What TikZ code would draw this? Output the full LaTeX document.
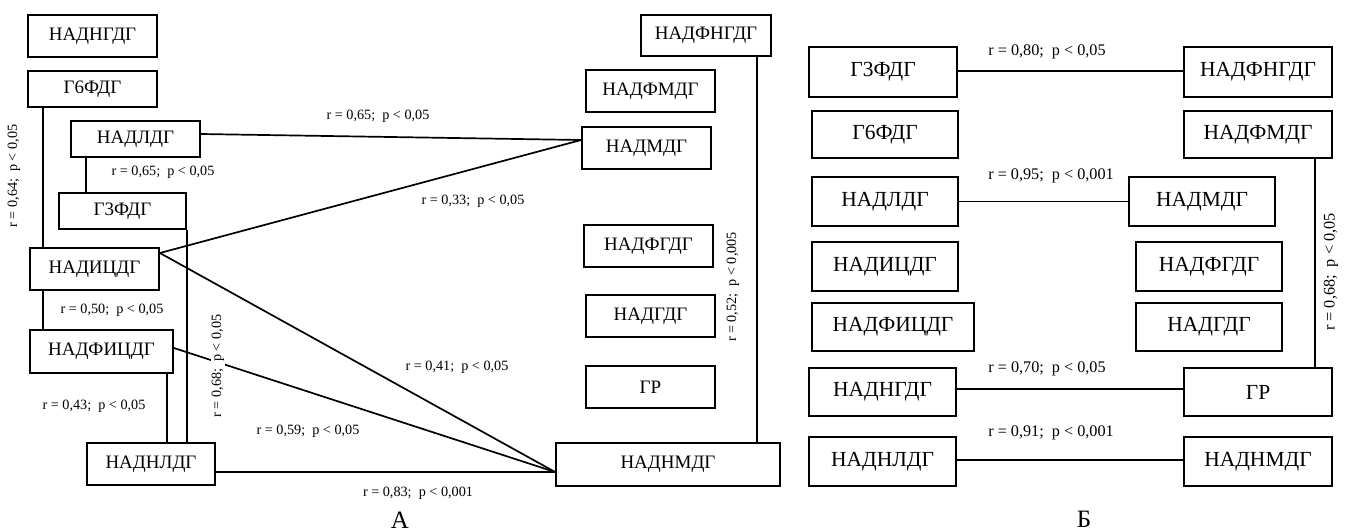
\documentclass[tikz,border=0pt]{standalone}
\usepackage{fontspec}
\setmainfont{Liberation Serif}
\usetikzlibrary{calc}
\tikzset{
  boxL/.style={draw, line width=1.8pt, inner sep=0pt, font=\fontsize{19}{22}\selectfont},
  boxR/.style={draw, line width=1.8pt, inner sep=0pt, font=\fontsize{21.5}{24}\selectfont},
  link/.style={line width=1.7pt},
  labL/.style={inner sep=1pt, font=\fontsize{14.2}{16}\selectfont},
  labR/.style={inner sep=1pt, font=\fontsize{16.2}{18}\selectfont},
  panel/.style={font=\fontsize{25}{28}\selectfont}
}
\begin{document}
\begin{tikzpicture}[x=1pt, y=-1pt]
\useasboundingbox (0,0) rectangle (1346,531);

% ---------- panel A ----------
\node[boxL, minimum width=129, minimum height=42] (lNG)  at (92.5,36)   {НАДНГДГ};
\node[boxL, minimum width=129, minimum height=36] (lG6)  at (92.5,89)   {Г6ФДГ};
\node[boxL, minimum width=129, minimum height=36] (lLD)  at (135.5,139) {НАДЛДГ};
\node[boxL, minimum width=127, minimum height=36] (lG3)  at (122.5,211) {Г3ФДГ};
\node[boxL, minimum width=129, minimum height=42] (lIC)  at (94.5,269)  {НАДИЦДГ};
\node[boxL, minimum width=143, minimum height=43] (lFIC) at (101.5,351.5) {НАДФИЦДГ};
\node[boxL, minimum width=128, minimum height=42] (lNL)  at (151,464)   {НАДНЛДГ};
\node[boxL, minimum width=130, minimum height=41] (lFNG) at (706,35.5)  {НАДФНГДГ};
\node[boxL, minimum width=129, minimum height=42] (lFM)  at (650.5,91)  {НАДФМДГ};
\node[boxL, minimum width=129, minimum height=42] (lM)   at (646.5,148) {НАДМДГ};
\node[boxL, minimum width=129, minimum height=42] (lFG)  at (648.5,246) {НАДФГДГ};
\node[boxL, minimum width=129, minimum height=42] (lG)   at (650.5,316) {НАДГДГ};
\node[boxL, minimum width=129, minimum height=42] (lGR)  at (650.5,387) {ГР};
\node[boxL, minimum width=224, minimum height=43] (lNM)  at (668,464.5) {НАДНМДГ};

% meeting points on НАДМДГ and НАДНМДГ
\coordinate (mIn) at ([yshift=8pt]lM.west);
\coordinate (nmIn) at ([yshift=-7.5pt]lNM.west);
\coordinate (icOut) at ([yshift=16pt]lIC.east);

\draw[link] ([xshift=16pt]lG6.south west) -- ([xshift=16pt]lG6.south west |- lIC.north);
\draw[link] ([xshift=16pt]lLD.south west) -- ([xshift=16pt]lLD.south west |- lG3.north);
\draw[link] ([xshift=14pt]lIC.south west) -- ([xshift=14pt]lIC.south west |- lFIC.north);
\draw[link] ([xshift=-7pt]lFIC.south east) -- ([xshift=-7pt]lFIC.south east |- lNL.north);
\draw[link] (lG3.south east) -- (lG3.south east |- lNL.north);
\draw[link] ([yshift=5pt]lLD.east) -- (mIn);
\draw[link] (icOut) -- (mIn);
\draw[link] (icOut) -- (nmIn);
\draw[link] ([yshift=3.5pt]lFIC.east) -- (nmIn);
\draw[link] ([yshift=-8pt]lNL.east) -- (nmIn);
\draw[link] ([xshift=-15pt]lFNG.south east) -- ([xshift=-15pt]lFNG.south east |- lNM.north);

\node[labL, rotate=90] (a1) at (14,176)  {r = 0,64;\ \ p < 0,05};
\node[labL] (a2) at (163,172) {r = 0,65;\ \ p < 0,05};
\node[labL] (a3) at (112,310) {r = 0,50;\ \ p < 0,05};
\node[labL] (a4) at (94,406)  {r = 0,43;\ \ p < 0,05};
\node[labL, rotate=90, fill=white] (a5) at (218,366) {r = 0,68;\ \ p < 0,05};
\node[labL] (a6) at (378,116) {r = 0,65;\ \ p < 0,05};
\node[labL] (a7) at (473,201) {r = 0,33;\ \ p < 0,05};
\node[labL] (a8) at (457,367) {r = 0,41;\ \ p < 0,05};
\node[labL] (a9) at (308,431) {r = 0,59;\ \ p < 0,05};
\node[labL] (a10) at (418,493) {r = 0,83;\ \ p < 0,001};
\node[labL, rotate=90] (a11) at (733,287) {r = 0,52;\ \ p < 0,005};
\node[panel] (pA) at (400,520) {А};

% ---------- panel Б ----------
\node[boxR, minimum width=148, minimum height=50] (rG3)  at (883,72)      {Г3ФДГ};
\node[boxR, minimum width=148, minimum height=50] (rFNG) at (1258,72)     {НАДФНГДГ};
\node[boxR, minimum width=146, minimum height=47] (rG6)  at (885,134.5)   {Г6ФДГ};
\node[boxR, minimum width=148, minimum height=47] (rFM)  at (1258,134.5)  {НАДФМДГ};
\node[boxR, minimum width=146, minimum height=49] (rLD)  at (885,201.5)   {НАДЛДГ};
\node[boxR, minimum width=146, minimum height=49] (rM)   at (1202,201.5)  {НАДМДГ};
\node[boxR, minimum width=146, minimum height=49] (rIC)  at (885,266.5)   {НАДИЦДГ};
\node[boxR, minimum width=146, minimum height=49] (rFG)  at (1209,266.5)  {НАДФГДГ};
\node[boxR, minimum width=162, minimum height=48] (rFIC) at (893,327)     {НАДФИЦДГ};
\node[boxR, minimum width=146, minimum height=48] (rGD)  at (1209,327)    {НАДГДГ};
\node[boxR, minimum width=147, minimum height=48] (rNG)  at (882.5,392)   {НАДНГДГ};
\node[boxR, minimum width=148, minimum height=48] (rGR)  at (1258,392)    {ГР};
\node[boxR, minimum width=147, minimum height=49] (rNL)  at (882.5,461.5) {НАДНЛДГ};
\node[boxR, minimum width=148, minimum height=49] (rNM)  at (1258,461.5)  {НАДНМДГ};

\draw[link] ([yshift=1pt]rG3.east) -- ([yshift=1pt]rFNG.west);
\draw[link] (rLD.east) -- (rM.west);
\draw[link] ([yshift=3pt]rNG.east) -- ([yshift=3pt]rGR.west);
\draw[link] ([yshift=1.5pt]rNL.east) -- ([yshift=1.5pt]rNM.west);
\draw[link] ([xshift=-18pt]rFM.south east) -- ([xshift=-18pt]rFM.south east |- rGR.north);

\node[labR] (b1) at (1047,52)  {r = 0,80;\ \ p < 0,05};
\node[labR] (b2) at (1051,176) {r = 0,95;\ \ p < 0,001};
\node[labR] (b3) at (1047,369) {r = 0,70;\ \ p < 0,05};
\node[labR] (b4) at (1051,433) {r = 0,91;\ \ p < 0,001};
\node[labR, rotate=90] (b5) at (1331,272) {r = 0,68;\ \ p < 0,05};
\node[panel] (pB) at (1084,519) {Б};
\end{tikzpicture}
\end{document}
